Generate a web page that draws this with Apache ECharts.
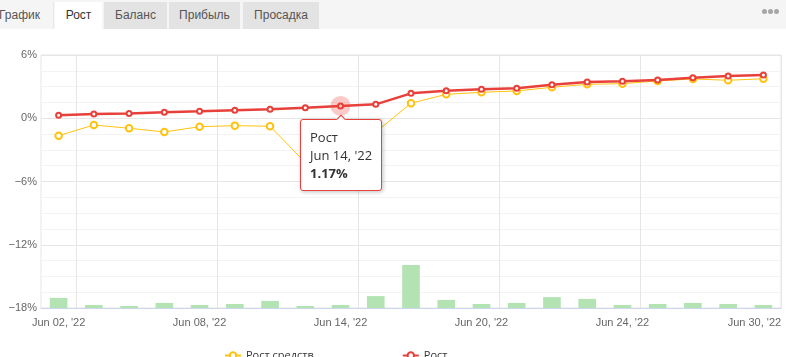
<!DOCTYPE html>
<html>
<head>
<meta charset="utf-8">
<script src="https://cdn.jsdelivr.net/npm/echarts@6/dist/echarts.min.js"></script>
<style>
  html, body { margin:0; padding:0; background:#fff; }
  #wrap { position:relative; width:786px; height:357px; overflow:hidden; }
  #chart { position:absolute; left:0; top:0; width:786px; height:357px; }
  #tabs { position:absolute; left:0; top:0; width:786px; height:29px; background:#f5f5f5; z-index:5;
          font-family:"Liberation Sans", Arial, sans-serif; font-size:12px; color:#555; }
  .tab { position:absolute; top:2px; height:27px; line-height:26px; text-align:center; box-sizing:border-box; }
  .dot { position:absolute; top:9px; width:5px; height:5px; border-radius:50%; background:#a6a6a6; }
</style>
</head>
<body>
<div id="wrap">
  <div id="chart"></div>
  <div id="tabs"></div>
</div>
<script>
// ---- data ----
const tabLabels = ['График', 'Рост', 'Баланс', 'Прибыль', 'Просадка'];
const categories = ['Jun 02, \'22','Jun 03, \'22','Jun 06, \'22','Jun 07, \'22','Jun 08, \'22',
  'Jun 09, \'22','Jun 10, \'22','Jun 13, \'22','Jun 14, \'22','Jun 15, \'22','Jun 16, \'22',
  'Jun 17, \'22','Jun 20, \'22','Jun 21, \'22','Jun 22, \'22','Jun 23, \'22','Jun 24, \'22',
  'Jun 27, \'22','Jun 28, \'22','Jun 29, \'22','Jun 30, \'22'];
const equityGrowth = [-1.65, -0.64, -0.95, -1.30, -0.80, -0.70, -0.76, -4.2, -4.0, -1.32, 1.42,
  2.27, 2.46, 2.59, 2.94, 3.22, 3.28, 3.54, 3.73, 3.60, 3.75];
const growth = [0.28, 0.40, 0.44, 0.58, 0.67, 0.77, 0.86, 1.00, 1.17, 1.32, 2.36,
  2.60, 2.74, 2.84, 3.18, 3.43, 3.52, 3.62, 3.85, 4.00, 4.10];
const volume = [4.0, 1.2, 0.8, 2.0, 1.2, 1.6, 2.8, 0.8, 1.2, 4.7, 17.0,
  3.2, 1.6, 2.0, 4.3, 3.6, 1.2, 1.6, 2.0, 1.6, 1.2];
const yTicks = { min: -18, max: 6, step: 6 };
const tooltipIndex = 8;

// ---- tabs ----
const tabBox = [
  { left: -12, width: 66, bg: '#f5f5f5', color: '#555' },
  { left: 55, width: 47, bg: '#ffffff', color: '#333' },
  { left: 104, width: 63, bg: '#e3e3e3', color: '#555' },
  { left: 169, width: 71, bg: '#e3e3e3', color: '#555' },
  { left: 243, width: 76, bg: '#e3e3e3', color: '#555' }
];
const tabsEl = document.getElementById('tabs');
tabLabels.forEach((t, i) => {
  const d = document.createElement('div');
  d.className = 'tab';
  d.textContent = t;
  d.style.left = tabBox[i].left + 'px';
  d.style.width = tabBox[i].width + 'px';
  d.style.background = tabBox[i].bg;
  d.style.color = tabBox[i].color;
  if (i === 0) { d.style.textAlign = 'right'; d.style.paddingRight = '13px'; d.style.borderRight = '1px solid #e8e8e8'; }
  tabsEl.appendChild(d);
});
[762, 768, 774].forEach(x => {
  const d = document.createElement('div');
  d.className = 'dot';
  d.style.left = x + 'px';
  tabsEl.appendChild(d);
});

// ---- chart ----
const chart = echarts.init(document.getElementById('chart'), null, { renderer: 'canvas' });
const RED = '#e8403a';
const YEL = '#ffc20e';
const lastIdx = categories.length - 1;

chart.setOption({
  animation: false,
  backgroundColor: 'transparent',
  grid: { left: 41, right: 5, top: 55, bottom: 49, show: true, borderColor: '#e6e6e6', borderWidth: 1 },
  legend: {
    data: ['Рост средств', 'Рост'],
    left: 219, top: 345,
    itemWidth: 16, itemHeight: 8, itemGap: 88,
    textStyle: { fontFamily: 'Open Sans', fontSize: 11, color: '#333' }
  },
  tooltip: {
    trigger: 'item',
    triggerOn: 'none',
    alwaysShowContent: true,
    position: 'bottom',
    transitionDuration: 0,
    backgroundColor: '#fff',
    borderColor: RED,
    borderWidth: 1,
    padding: [8, 9],
    textStyle: { fontFamily: 'Open Sans', fontSize: 13, color: '#333' },
    extraCssText: 'box-shadow:1px 1px 4px rgba(0,0,0,0.25);border-radius:3px;line-height:18px;',
    formatter: p => p.seriesName + '<br/>' + p.name + '<br/><b>' + p.value.toFixed(2) + '%</b>'
  },
  xAxis: {
    type: 'category',
    data: categories,
    boundaryGap: true,
    axisLine: { onZero: false, lineStyle: { color: '#ccd6eb' } },
    axisTick: { show: false },
    axisLabel: {
      interval: (i) => i % 4 === 0,
      margin: 9,
      color: '#666',
      fontFamily: 'Liberation Sans',
      fontSize: 11,
      formatter: (v, i) => i === lastIdx ? '{last|' + v + '}' : v,
      rich: { last: { padding: [0, 18, 0, 0], color: '#666', fontFamily: 'Liberation Sans', fontSize: 11 } }
    },
    splitLine: { show: true, interval: (i) => i % 4 === 1, lineStyle: { color: '#e6e6e6' } }
  },
  yAxis: [{
    type: 'value',
    min: yTicks.min, max: yTicks.max, interval: yTicks.step,
    axisLine: { show: false },
    axisTick: { show: false },
    axisLabel: {
      margin: 4, color: '#666', fontFamily: 'Liberation Sans', fontSize: 11,
      formatter: v => (v < 0 ? '\u2212' + Math.abs(v) : v) + '%'
    },
    splitLine: { lineStyle: { color: '#e6e6e6' } },
    minorTick: { show: false, splitNumber: 4 },
    minorSplitLine: { show: true, lineStyle: { color: '#f3f3f3' } }
  }, {
    type: 'value', min: 0, max: 100, show: false, splitLine: { show: false }
  }],
  series: [{
    name: 'Объём',
    type: 'bar',
    yAxisIndex: 1,
    data: volume,
    barWidth: '50%',
    itemStyle: { color: '#b3e2b3' },
    z: 1
  }, {
    name: 'Рост средств',
    type: 'line',
    data: equityGrowth,
    color: YEL,
    symbol: 'emptyCircle',
    symbolSize: 6.5,
    itemStyle: { color: YEL, borderWidth: 1.5 },
    lineStyle: { width: 1, color: YEL },
    z: 3
  }, {
    name: 'Рост',
    type: 'line',
    data: growth,
    color: RED,
    symbol: 'emptyCircle',
    symbolSize: 5,
    itemStyle: { color: RED, borderWidth: 1.5 },
    lineStyle: { width: 2.5, color: RED },
    z: 4,
    markPoint: {
      silent: true,
      symbol: 'circle',
      symbolSize: 20,
      z: 10,
      label: { show: false },
      itemStyle: { color: 'rgba(232,64,58,0.28)' },
      data: [{ coord: [categories[tooltipIndex], growth[tooltipIndex]] }]
    }
  }]
});
chart.dispatchAction({ type: 'showTip', seriesIndex: 2, dataIndex: tooltipIndex });
</script>
</body>
</html>
